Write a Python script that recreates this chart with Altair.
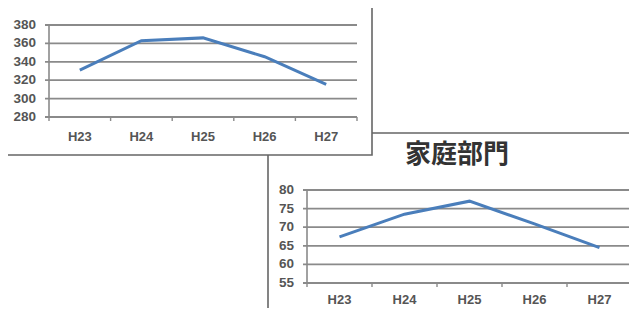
import altair as alt
import pandas as pd

years = ["H23", "H24", "H25", "H26", "H27"]
total_values = [331, 363, 366, 345.5, 315.5]
house_values = [67.4, 73.5, 77, 70.9, 64.5]
total_ticks = [280, 300, 320, 340, 360, 380]
house_ticks = [55, 60, 65, 70, 75, 80]
title_total = "総排出量"
title_house = "家庭部門"

LINE = "#4a7ebb"
GRID = "#8a8a8a"
LABEL = "#555555"
FRAME = "#666666"
FONT = "Liberation Sans"
CJK = "Noto Sans CJK JP"

one = pd.DataFrame({"a": [0]})


def frame(x0, x1, y0, y1):
    return alt.Chart(one).mark_rect(fill="white", stroke=FRAME, strokeWidth=1.6).encode(
        x=alt.value(x0), x2=alt.value(x1), y=alt.value(y0), y2=alt.value(y1)
    )


def panel(values, ticks, title, xr, yr, lab_x, xlab_y, title_x, title_y, grid_x1):
    ysc = alt.Scale(domain=[ticks[0], ticks[-1]], range=yr, zero=False, nice=False)
    xsc = alt.Scale(type="point", domain=years, range=xr, padding=0.5)
    df = pd.DataFrame({"year": years, "v": values})
    tdf = pd.DataFrame({"t": ticks})
    bdf = pd.DataFrame({"b": list(range(len(years) + 1))})
    bsc = alt.Scale(domain=[0, len(years)], range=xr, nice=False, zero=False)

    grid = alt.Chart(tdf).mark_rule(color=GRID, strokeWidth=1.8).encode(
        y=alt.Y("t:Q", scale=ysc, axis=None),
        x=alt.value(xr[0] - 4), x2=alt.value(grid_x1),
    )
    yaxis = alt.Chart(tdf).mark_rule(color=GRID, strokeWidth=1.6).encode(
        y=alt.Y("min(t):Q", scale=ysc, axis=None),
        y2=alt.Y2("max(t):Q"),
        x=alt.value(xr[0]),
    )
    xticks = alt.Chart(bdf).mark_rule(color=GRID, strokeWidth=1.4).encode(
        x=alt.X("b:Q", scale=bsc, axis=None),
        y=alt.value(yr[0]), y2=alt.value(yr[0] + 4),
    )
    ylabels = alt.Chart(tdf).mark_text(
        align="right", baseline="middle", font=FONT, fontSize=13.5, fontWeight="bold", color=LABEL
    ).encode(
        y=alt.Y("t:Q", scale=ysc, axis=None),
        x=alt.value(lab_x),
        text=alt.Text("t:Q"),
    )
    xlabels = alt.Chart(df).mark_text(
        align="center", baseline="middle", font=FONT, fontSize=13, fontWeight="bold", color=LABEL
    ).encode(
        x=alt.X("year:N", scale=xsc, axis=None, sort=years),
        y=alt.value(xlab_y),
        text="year:N",
    )
    line = alt.Chart(df).mark_line(color=LINE, strokeWidth=3).encode(
        x=alt.X("year:N", scale=xsc, axis=None, sort=years),
        y=alt.Y("v:Q", scale=ysc, axis=None),
    )
    ttl = alt.Chart(one).mark_text(
        align="center", baseline="middle", font=CJK, fontSize=26, fontWeight="bold", color="#333333"
    ).encode(x=alt.value(title_x), y=alt.value(title_y), text=alt.value(title))
    return [grid, yaxis, xticks, ylabels, xlabels, line, ttl]


layers = []
layers.append(frame(268, 660, 133, 340))
layers += panel(house_values, house_ticks, title_house, [307, 632], [283, 190], 294, 300, 457, 155, 660)
layers.append(frame(1, 372, -20, 155))
layers += panel(total_values, total_ticks, title_total, [49, 357], [117, 25], 36, 137, 190, -8, 357)

chart = alt.layer(*layers).resolve_scale(x="independent", y="independent").properties(
    width=637, height=316,
    autosize=alt.AutoSizeParams(type="none"),
    padding={"left": -8, "top": -8, "right": -8, "bottom": -8},
).configure_view(stroke=None)

chart.save("out.html", embed_options={"renderer": "svg", "actions": False})
